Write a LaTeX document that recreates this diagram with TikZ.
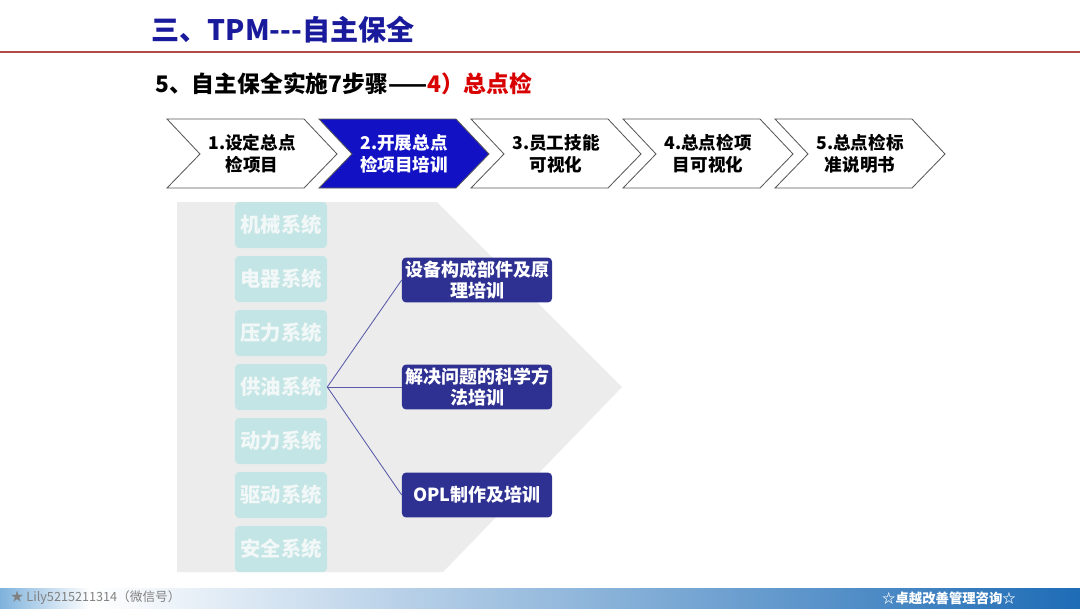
\documentclass[tikz,border=0pt]{standalone}
\usepackage{fontspec}
\setmainfont{Noto Sans CJK SC}
\usetikzlibrary{positioning}
\definecolor{titleblue}{HTML}{1A1A9C}
\definecolor{linered}{HTML}{B24A4A}
\definecolor{stepblue}{HTML}{1212C4}
\definecolor{trainnavy}{HTML}{2E3192}
\definecolor{syscolor}{HTML}{C4E5E5}
\definecolor{systext}{HTML}{F2F7F7}
\definecolor{panelgray}{HTML}{ECECEC}
\definecolor{footblue}{HTML}{1E6CB6}
\definecolor{footlight}{HTML}{7FB2DC}
\tikzset{
  chevbox/.style={draw=black!65, fill=white, line width=0.6pt},
  chevcur/.style={draw=black!65, fill=stepblue, line width=0.6pt},
  chevtext/.style={align=center, font=\fontsize{12.5}{15.5}\selectfont\bfseries},
  sysbox/.style={fill=syscolor, rounded corners=0.1cm, minimum width=2.3cm,
    minimum height=1.15cm, text=systext, font=\fontsize{14.5}{16}\selectfont\bfseries},
  trainbox/.style={fill=trainnavy, rounded corners=0.1cm, minimum width=3.75cm,
    minimum height=1.12cm, text=white, align=center, inner sep=1pt,
    font=\fontsize{12.8}{15.5}\selectfont\bfseries},
  link/.style={draw=trainnavy!80, line width=0.6pt}
}
\begin{document}
\begin{tikzpicture}[x={(0.025cm,0)}, y={(0,-0.025cm)}]
  \useasboundingbox (0,0) rectangle (1080,608);
  \fill[white] (0,0) rectangle (1080,608);

  % Titel
  \node[text=titleblue, font=\fontsize{20}{24}\selectfont\bfseries] (title) at (283,30) {三、TPM-{}-{}-自主保全};
  \draw[linered, line width=0.9pt] (0,52) -- (1080,52);
  \node[anchor=west, font=\fontsize{16.2}{18}\selectfont\bfseries, inner sep=0pt] (subtitle) at (155,84)
    {5、自主保全实施7步骤——\textcolor{red!85!black}{4）总点检}};

  % Schritte
  \foreach \i/\sty/\txt in {0/chevbox/{1.设定总点\\检项目}, 1/chevcur/{\textcolor{white}{2.开展总点}\\\textcolor{white}{检项目培训}},
      2/chevbox/{3.员工技能\\可视化}, 3/chevbox/{4.总点检项\\目可视化}, 4/chevbox/{5.总点检标\\准说明书}} {
    \pgfmathsetmacro{\L}{167+152*\i}
    \draw[\sty] (\L,119) -- ++(137,0) -- ++(33,35) -- ++(-33,34) -- ++(-137,0) -- ++(33,-34) -- cycle;
    \node[chevtext] (step\i) at (\L+85,154) {\txt};
  }

  % Systeme
  \fill[panelgray] (177,202) -- (437,202) -- (622,387) -- (443,572) -- (177,572) -- cycle;
  \foreach \i/\txt in {0/机械系统, 1/电器系统, 2/压力系统, 3/供油系统, 4/动力系统, 5/驱动系统, 6/安全系统}
    \node[sysbox] (sys\i) at (281,225+54*\i) {\txt};

  % Schulungen
  \node[trainbox] (train1) at (477,280) {设备构成部件及原\\理培训};
  \node[trainbox] (train2) at (477,387) {解决问题的科学方\\法培训};
  \node[trainbox] (train3) at (477,495) {OPL制作及培训};
  \foreach \j in {1,2,3}
    \draw[link] (sys3.east) -- (train\j.west);

  % Fusszeile
  \shade[left color=footlight, right color=white] (0,588) rectangle (90,608);
  \shade[left color=white, right color=footblue] (90,588) rectangle (1080,608);
  \node[anchor=west, text=black!50, font=\fontsize{9}{10}\selectfont] (wechat) at (6,598) {★ Lily5215211314（微信号）};
  \node[text=white, font=\fontsize{9.5}{10}\selectfont\bfseries] (brand) at (949,598) {☆卓越改善管理咨询☆};
\end{tikzpicture}
\end{document}
